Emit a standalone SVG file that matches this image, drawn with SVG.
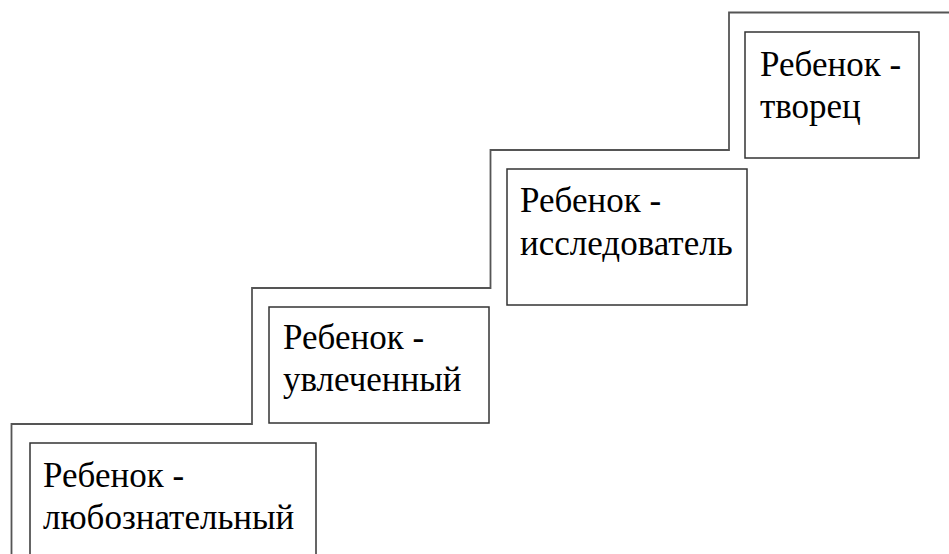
<svg xmlns="http://www.w3.org/2000/svg" width="949" height="554" viewBox="0 0 949 554">
<style>
.box{fill:#fff;stroke:#333;stroke-width:1.5}
.stair{fill:none;stroke:#555;stroke-width:1.8}
</style>
<rect width="949" height="554" fill="#fff"/>
<g id="connectors">
<path class="stair" d="M11.5 554 V424 H252 V288 H490.5 V150 H729 V12.5 H949"/>
</g>
<g font-family="'Liberation Serif', 'Times New Roman', serif" font-size="35" fill="#000">
<g id="node1">
<rect class="box" x="30" y="443" width="286" height="120"/>
<text x="43" y="487">Ребенок -</text>
<text x="43" y="529">любознательный</text>
</g>
<g id="node2">
<rect class="box" x="269" y="307" width="220" height="116"/>
<text x="283" y="349">Ребенок -</text>
<text x="283" y="391">увлеченный</text>
</g>
<g id="node3">
<rect class="box" x="507" y="169" width="240" height="136"/>
<text x="520" y="212">Ребенок -</text>
<text x="520" y="255">исследователь</text>
</g>
<g id="node4">
<rect class="box" x="745" y="32" width="174" height="126"/>
<text x="760" y="76">Ребенок -</text>
<text x="760" y="118">творец</text>
</g>
</g>
</svg>
